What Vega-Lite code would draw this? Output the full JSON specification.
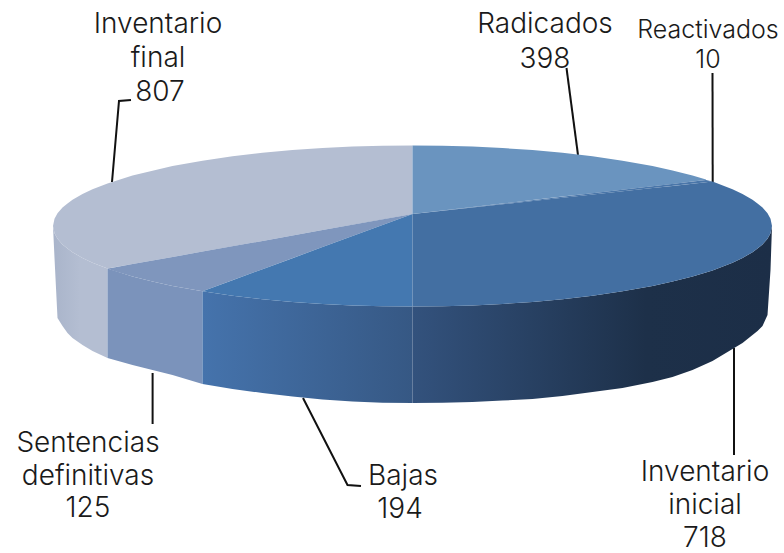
{
"$schema":"https://vega.github.io/schema/vega-lite/v6.json",
"width":784,"height":553,"padding":0,"autosize":"none","background":"white",
"config":{"view":{"stroke":null}},
"datasets":{
"outline":[
{"slice":"Inventario final","face":"side","x":53,"y":226,"y2":226},
{"slice":"Inventario final","face":"side","x":54.5,"y":233.3,"y2":258},
{"slice":"Inventario final","face":"side","x":57.5,"y":238.7,"y2":318},
{"slice":"Inventario final","face":"side","x":62.5,"y":244.4,"y2":326},
{"slice":"Inventario final","face":"side","x":67.5,"y":248.6,"y2":333},
{"slice":"Inventario final","face":"side","x":72.5,"y":252.2,"y2":338},
{"slice":"Inventario final","face":"side","x":82.5,"y":257.9,"y2":345},
{"slice":"Inventario final","face":"side","x":92.5,"y":262.7,"y2":351},
{"slice":"Inventario final","face":"side","x":107.5,"y":268.6,"y2":358},
{"slice":"Sentencias definitivas","face":"side","x":107.5,"y":268.6,"y2":358},
{"slice":"Sentencias definitivas","face":"side","x":132.5,"y":276.5,"y2":365},
{"slice":"Sentencias definitivas","face":"side","x":152.5,"y":281.6,"y2":370},
{"slice":"Sentencias definitivas","face":"side","x":172.5,"y":285.9,"y2":375},
{"slice":"Sentencias definitivas","face":"side","x":202.5,"y":291.3,"y2":384},
{"slice":"Bajas","face":"side","x":202.5,"y":291.3,"y2":384},
{"slice":"Bajas","face":"side","x":232.5,"y":295.7,"y2":389},
{"slice":"Bajas","face":"side","x":262.5,"y":299.2,"y2":393},
{"slice":"Bajas","face":"side","x":292.5,"y":301.9,"y2":396.5},
{"slice":"Bajas","face":"side","x":322.5,"y":303.9,"y2":399.5},
{"slice":"Bajas","face":"side","x":352.5,"y":305.4,"y2":401.5},
{"slice":"Bajas","face":"side","x":382.5,"y":306.2,"y2":402.7},
{"slice":"Bajas","face":"side","x":412.5,"y":306.5,"y2":403},
{"slice":"Inventario inicial","face":"side","x":412.5,"y":306.5,"y2":403},
{"slice":"Inventario inicial","face":"side","x":442.5,"y":306.2,"y2":402.7},
{"slice":"Inventario inicial","face":"side","x":472.5,"y":305.4,"y2":402},
{"slice":"Inventario inicial","face":"side","x":502.5,"y":303.9,"y2":400.5},
{"slice":"Inventario inicial","face":"side","x":532.5,"y":301.9,"y2":399},
{"slice":"Inventario inicial","face":"side","x":562.5,"y":299.2,"y2":396},
{"slice":"Inventario inicial","face":"side","x":592.5,"y":295.7,"y2":392},
{"slice":"Inventario inicial","face":"side","x":622.5,"y":291.3,"y2":388},
{"slice":"Inventario inicial","face":"side","x":652.5,"y":285.9,"y2":382},
{"slice":"Inventario inicial","face":"side","x":672.5,"y":281.6,"y2":377},
{"slice":"Inventario inicial","face":"side","x":692.5,"y":276.5,"y2":370},
{"slice":"Inventario inicial","face":"side","x":712.5,"y":270.4,"y2":361},
{"slice":"Inventario inicial","face":"side","x":732.5,"y":262.7,"y2":349},
{"slice":"Inventario inicial","face":"side","x":742.5,"y":257.9,"y2":343},
{"slice":"Inventario inicial","face":"side","x":752.5,"y":252.2,"y2":335},
{"slice":"Inventario inicial","face":"side","x":757.5,"y":248.6,"y2":331},
{"slice":"Inventario inicial","face":"side","x":762.5,"y":244.4,"y2":326},
{"slice":"Inventario inicial","face":"side","x":767.5,"y":238.7,"y2":315},
{"slice":"Inventario inicial","face":"side","x":770.5,"y":233.3,"y2":270},
{"slice":"Inventario inicial","face":"side","x":772,"y":226,"y2":226},
{"slice":"Inventario final","face":"top","x":53,"y":226,"y2":226},
{"slice":"Inventario final","face":"top","x":54.5,"y":218.7,"y2":233.3},
{"slice":"Inventario final","face":"top","x":57.5,"y":213.3,"y2":238.7},
{"slice":"Inventario final","face":"top","x":62.5,"y":207.6,"y2":244.4},
{"slice":"Inventario final","face":"top","x":67.5,"y":203.4,"y2":248.6},
{"slice":"Inventario final","face":"top","x":72.5,"y":199.8,"y2":252.2},
{"slice":"Inventario final","face":"top","x":82.5,"y":194.1,"y2":257.9},
{"slice":"Inventario final","face":"top","x":92.5,"y":189.3,"y2":262.7},
{"slice":"Inventario final","face":"top","x":107.5,"y":183.4,"y2":268.6},
{"slice":"Inventario final","face":"top","x":132.5,"y":175.5,"y2":264.1},
{"slice":"Inventario final","face":"top","x":172.5,"y":166.1,"y2":257},
{"slice":"Inventario final","face":"top","x":202.5,"y":160.7,"y2":251.6},
{"slice":"Inventario final","face":"top","x":232.5,"y":156.3,"y2":246.2},
{"slice":"Inventario final","face":"top","x":262.5,"y":152.8,"y2":240.9},
{"slice":"Inventario final","face":"top","x":292.5,"y":150.1,"y2":235.5},
{"slice":"Inventario final","face":"top","x":322.5,"y":148.1,"y2":230.1},
{"slice":"Inventario final","face":"top","x":352.5,"y":146.6,"y2":224.7},
{"slice":"Inventario final","face":"top","x":382.5,"y":145.8,"y2":219.4},
{"slice":"Inventario final","face":"top","x":412.5,"y":145.5,"y2":214},
{"slice":"Sentencias definitivas","face":"top","x":107.5,"y":268.6,"y2":268.6},
{"slice":"Sentencias definitivas","face":"top","x":112.5,"y":267.7,"y2":270.4},
{"slice":"Sentencias definitivas","face":"top","x":132.5,"y":264.1,"y2":276.5},
{"slice":"Sentencias definitivas","face":"top","x":152.5,"y":260.5,"y2":281.6},
{"slice":"Sentencias definitivas","face":"top","x":172.5,"y":257,"y2":285.9},
{"slice":"Sentencias definitivas","face":"top","x":202.5,"y":251.6,"y2":291.3},
{"slice":"Sentencias definitivas","face":"top","x":262.5,"y":240.9,"y2":269.2},
{"slice":"Sentencias definitivas","face":"top","x":322.5,"y":230.1,"y2":247.1},
{"slice":"Sentencias definitivas","face":"top","x":412.5,"y":214,"y2":214},
{"slice":"Bajas","face":"top","x":202.5,"y":291.3,"y2":291.3},
{"slice":"Bajas","face":"top","x":232.5,"y":280.2,"y2":295.7},
{"slice":"Bajas","face":"top","x":262.5,"y":269.2,"y2":299.2},
{"slice":"Bajas","face":"top","x":292.5,"y":258.2,"y2":301.9},
{"slice":"Bajas","face":"top","x":322.5,"y":247.1,"y2":303.9},
{"slice":"Bajas","face":"top","x":352.5,"y":236.1,"y2":305.4},
{"slice":"Bajas","face":"top","x":382.5,"y":225,"y2":306.2},
{"slice":"Bajas","face":"top","x":412.5,"y":214,"y2":306.5},
{"slice":"Inventario inicial","face":"top","x":412.5,"y":214,"y2":306.5},
{"slice":"Inventario inicial","face":"top","x":442.5,"y":210.8,"y2":306.2},
{"slice":"Inventario inicial","face":"top","x":472.5,"y":207.5,"y2":305.4},
{"slice":"Inventario inicial","face":"top","x":502.5,"y":204.3,"y2":303.9},
{"slice":"Inventario inicial","face":"top","x":532.5,"y":201,"y2":301.9},
{"slice":"Inventario inicial","face":"top","x":562.5,"y":197.8,"y2":299.2},
{"slice":"Inventario inicial","face":"top","x":592.5,"y":194.5,"y2":295.7},
{"slice":"Inventario inicial","face":"top","x":622.5,"y":191.3,"y2":291.3},
{"slice":"Inventario inicial","face":"top","x":652.5,"y":188,"y2":285.9},
{"slice":"Inventario inicial","face":"top","x":672.5,"y":185.9,"y2":281.6},
{"slice":"Inventario inicial","face":"top","x":692.5,"y":183.7,"y2":276.5},
{"slice":"Inventario inicial","face":"top","x":712.5,"y":181.6,"y2":270.4},
{"slice":"Inventario inicial","face":"top","x":732.5,"y":189.3,"y2":262.7},
{"slice":"Inventario inicial","face":"top","x":742.5,"y":194.1,"y2":257.9},
{"slice":"Inventario inicial","face":"top","x":752.5,"y":199.8,"y2":252.2},
{"slice":"Inventario inicial","face":"top","x":757.5,"y":203.4,"y2":248.6},
{"slice":"Inventario inicial","face":"top","x":762.5,"y":207.6,"y2":244.4},
{"slice":"Inventario inicial","face":"top","x":767.5,"y":213.3,"y2":238.7},
{"slice":"Inventario inicial","face":"top","x":770.5,"y":218.7,"y2":233.3},
{"slice":"Inventario inicial","face":"top","x":772,"y":226,"y2":226},
{"slice":"Radicados","face":"top","x":412.5,"y":145.5,"y2":214},
{"slice":"Radicados","face":"top","x":442.5,"y":145.8,"y2":210.5},
{"slice":"Radicados","face":"top","x":472.5,"y":146.6,"y2":207.1},
{"slice":"Radicados","face":"top","x":502.5,"y":148.1,"y2":203.6},
{"slice":"Radicados","face":"top","x":532.5,"y":150.1,"y2":200.1},
{"slice":"Radicados","face":"top","x":562.5,"y":152.8,"y2":196.6},
{"slice":"Radicados","face":"top","x":592.5,"y":156.3,"y2":193.2},
{"slice":"Radicados","face":"top","x":622.5,"y":160.7,"y2":189.7},
{"slice":"Radicados","face":"top","x":652.5,"y":166.1,"y2":186.2},
{"slice":"Radicados","face":"top","x":672.5,"y":170.4,"y2":183.9},
{"slice":"Radicados","face":"top","x":692.5,"y":175.5,"y2":181.6},
{"slice":"Radicados","face":"top","x":706,"y":179.5,"y2":180},
{"slice":"Reactivados","face":"top","x":412.5,"y":214,"y2":214},
{"slice":"Reactivados","face":"top","x":706,"y":180,"y2":182.2},
{"slice":"Reactivados","face":"top","x":712.5,"y":181.6,"y2":181.6}
],
"leaders":[
{"slice":"Inventario final","order":1,"x":131,"y":100},
{"slice":"Inventario final","order":2,"x":119,"y":101},
{"slice":"Inventario final","order":3,"x":112,"y":182},
{"slice":"Radicados","order":1,"x":566.5,"y":68},
{"slice":"Radicados","order":2,"x":578,"y":155},
{"slice":"Reactivados","order":1,"x":712.5,"y":73},
{"slice":"Reactivados","order":2,"x":712.7,"y":182},
{"slice":"Sentencias definitivas","order":1,"x":152.6,"y":373},
{"slice":"Sentencias definitivas","order":2,"x":152.6,"y":424},
{"slice":"Bajas","order":1,"x":303,"y":398},
{"slice":"Bajas","order":2,"x":347.5,"y":485},
{"slice":"Bajas","order":3,"x":361,"y":486},
{"slice":"Inventario inicial","order":1,"x":734,"y":348},
{"slice":"Inventario inicial","order":2,"x":734,"y":455}
],
"labels":[
{"slice":"Inventario final","text":"Inventario","x":158,"y":33},
{"slice":"Inventario final","text":"final","x":158,"y":67},
{"slice":"Inventario final","text":"807","x":160,"y":101},
{"slice":"Radicados","text":"Radicados","x":545,"y":33},
{"slice":"Radicados","text":"398","x":545,"y":68},
{"slice":"Reactivados","text":"Reactivados","x":708,"y":38},
{"slice":"Reactivados","text":"10","x":708,"y":68},
{"slice":"Sentencias definitivas","text":"Sentencias","x":88,"y":452},
{"slice":"Sentencias definitivas","text":"definitivas","x":88,"y":485},
{"slice":"Sentencias definitivas","text":"125","x":88,"y":517},
{"slice":"Bajas","text":"Bajas","x":403,"y":485},
{"slice":"Bajas","text":"194","x":400,"y":518},
{"slice":"Inventario inicial","text":"Inventario","x":705,"y":481},
{"slice":"Inventario inicial","text":"inicial","x":705,"y":514},
{"slice":"Inventario inicial","text":"718","x":705,"y":547}
]
},
"encoding":{
"x":{"field":"x","type":"quantitative","scale":{"domain":[0,784],"nice":false,"zero":false},"axis":null},
"y":{"field":"y","type":"quantitative","scale":{"domain":[553,0],"nice":false,"zero":false},"axis":null}
},
"layer":[
{"data":{"name":"leaders"},"mark":{"type":"line","color":"#111111","strokeWidth":2,"interpolate":"linear"},"encoding":{"detail":{"field":"slice"},"order":{"field":"order"}}},
{"data":{"name":"outline"},"transform":[{"filter":"datum.face=='side' && datum.slice=='Inventario final'"}],"mark":{"type":"area","color":{"gradient":"linear","x1":0,"x2":1,"y1":0,"y2":0,"stops":[{"offset":0,"color":"#A9B4CA"},{"offset":0.5,"color":"#B4BED2"},{"offset":1,"color":"#B4BED2"}]}},"encoding":{"y2":{"field":"y2"}}},
{"data":{"name":"outline"},"transform":[{"filter":"datum.face=='side' && datum.slice=='Sentencias definitivas'"}],"mark":{"type":"area","color":"#7B93BB"},"encoding":{"y2":{"field":"y2"}}},
{"data":{"name":"outline"},"transform":[{"filter":"datum.face=='side' && datum.slice=='Bajas'"}],"mark":{"type":"area","color":{"gradient":"linear","x1":0,"x2":1,"y1":0,"y2":0,"stops":[{"offset":0,"color":"#4573AC"},{"offset":1,"color":"#365884"}]}},"encoding":{"y2":{"field":"y2"}}},
{"data":{"name":"outline"},"transform":[{"filter":"datum.face=='side' && datum.slice=='Inventario inicial'"}],"mark":{"type":"area","color":{"gradient":"linear","x1":0,"x2":1,"y1":0,"y2":0,"stops":[{"offset":0,"color":"#33527D"},{"offset":0.65,"color":"#1D3049"},{"offset":1,"color":"#1C2E47"}]}},"encoding":{"y2":{"field":"y2"}}},
{"data":{"name":"outline"},"transform":[{"filter":"datum.face=='top' && datum.slice=='Inventario final'"}],"mark":{"type":"area","color":"#B4BED2"},"encoding":{"y2":{"field":"y2"}}},
{"data":{"name":"outline"},"transform":[{"filter":"datum.face=='top' && datum.slice=='Sentencias definitivas'"}],"mark":{"type":"area","color":"#7F96BD"},"encoding":{"y2":{"field":"y2"}}},
{"data":{"name":"outline"},"transform":[{"filter":"datum.face=='top' && datum.slice=='Bajas'"}],"mark":{"type":"area","color":"#4478B0"},"encoding":{"y2":{"field":"y2"}}},
{"data":{"name":"outline"},"transform":[{"filter":"datum.face=='top' && datum.slice=='Inventario inicial'"}],"mark":{"type":"area","color":"#436FA2"},"encoding":{"y2":{"field":"y2"}}},
{"data":{"name":"outline"},"transform":[{"filter":"datum.face=='top' && datum.slice=='Radicados'"}],"mark":{"type":"area","color":"#6A94BF"},"encoding":{"y2":{"field":"y2"}}},
{"data":{"name":"outline"},"transform":[{"filter":"datum.face=='top' && datum.slice=='Reactivados'"}],"mark":{"type":"area","color":"#4A76A9"},"encoding":{"y2":{"field":"y2"}}},
{"data":{"name":"labels"},"transform":[{"filter":"datum.slice!='Reactivados'"}],"mark":{"type":"text","font":"Inter","fontSize":28,"fontWeight":300,"align":"center","baseline":"alphabetic","color":"#1a1a1a"},"encoding":{"text":{"field":"text"}}},
{"data":{"name":"labels"},"transform":[{"filter":"datum.slice=='Reactivados'"}],"mark":{"type":"text","font":"Inter","fontSize":25,"fontWeight":300,"align":"center","baseline":"alphabetic","color":"#1a1a1a"},"encoding":{"text":{"field":"text"}}}
]
}
